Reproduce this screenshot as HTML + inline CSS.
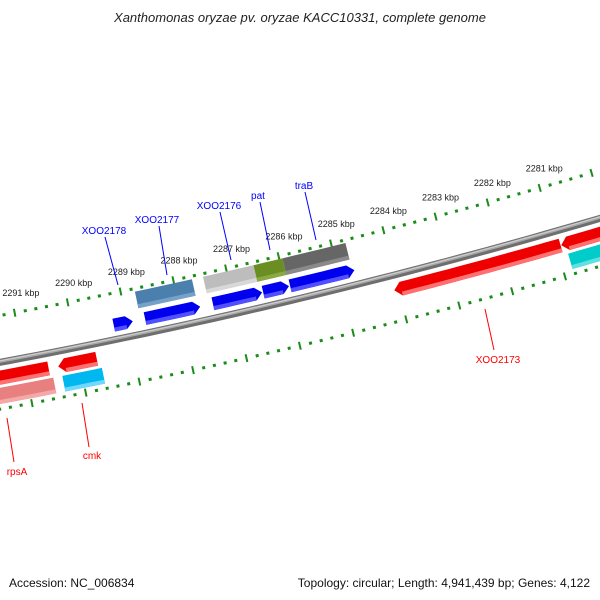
<!DOCTYPE html>
<html><head><meta charset="utf-8"><style>
html,body{margin:0;padding:0;background:#fff;}
svg{display:block;font-family:"Liberation Sans","DejaVu Sans",sans-serif;}
</style></head><body>
<svg id="chart" width="600" height="600" viewBox="0 0 600 600" xmlns="http://www.w3.org/2000/svg">
<text x="300" y="22" text-anchor="middle" font-size="13" font-style="italic" fill="#222">Xanthomonas oryzae pv. oryzae KACC10331, complete genome</text>
<g id="ticks"></g>
<g id="backbone"></g>
<g id="features"></g>
<g id="labels">
<line x1="105" y1="237" x2="118" y2="285" stroke="#00f" stroke-width="1"/>
<text x="104" y="234" text-anchor="middle" font-size="10" fill="#00f">XOO2178</text>
<line x1="159" y1="226" x2="167" y2="275" stroke="#00f" stroke-width="1"/>
<text x="157" y="223" text-anchor="middle" font-size="10" fill="#00f">XOO2177</text>
<line x1="220" y1="212" x2="231" y2="260" stroke="#00f" stroke-width="1"/>
<text x="219" y="209" text-anchor="middle" font-size="10" fill="#00f">XOO2176</text>
<line x1="260" y1="202" x2="270" y2="250" stroke="#00f" stroke-width="1"/>
<text x="258" y="199" text-anchor="middle" font-size="10" fill="#00f">pat</text>
<line x1="305" y1="192" x2="316" y2="240" stroke="#00f" stroke-width="1"/>
<text x="304" y="189" text-anchor="middle" font-size="10" fill="#00f">traB</text>
<line x1="485" y1="309" x2="494" y2="350" stroke="#f00" stroke-width="1"/>
<text x="498" y="363" text-anchor="middle" font-size="10" fill="#f00">XOO2173</text>
<line x1="7" y1="418" x2="14" y2="462" stroke="#f00" stroke-width="1"/>
<text x="17" y="475" text-anchor="middle" font-size="10" fill="#f00">rpsA</text>
<line x1="82" y1="403" x2="89" y2="447" stroke="#f00" stroke-width="1"/>
<text x="92" y="459" text-anchor="middle" font-size="10" fill="#f00">cmk</text>
</g>
<text x="9" y="587" font-size="12" fill="#111">Accession: NC_006834</text>
<text x="590" y="587" text-anchor="end" font-size="12" fill="#111">Topology: circular; Length: 4,941,439 bp; Genes: 4,122</text>
</svg>
<script>
// ---- data ----
const majorTicks=[2291,2290,2289,2288,2287,2286,2285,2284,2283,2282,2281];
const tickLabels=["2291 kbp","2290 kbp","2289 kbp","2288 kbp","2287 kbp","2286 kbp","2285 kbp","2284 kbp","2283 kbp","2282 kbp","2281 kbp"];
const featNames=["gene-small","gene-xoo2177","bar-xoo2177","gene-xoo2176","bar-xoo2176","bar-pat","bar-trab","gene-pat","gene-trab","gene-xoo2173","gene-right-red","bar-right-cyan","gene-rpsa","bar-rpsa","gene-cmk","bar-cmk"];
const featStart=[2289.25,2288.66,2288.74,2287.38,2287.45,2286.49,2285.94,2286.43,2285.92,2284.08,2280.91,2280.83,2291.9,2291.9,2290.40,2290.36];
const featEnd  =[2288.89,2287.62,2287.66,2286.45,2286.49,2285.94,2284.74,2285.94,2284.70,2280.92,2279.3,2279.3,2290.58,2290.53,2289.68,2289.62];
const featTrack=["gu","gu","bu","gu","bu","bu","bu","gu","gu","gd","gd","bd","gd","bd","gd","bd"];
const featColor=["#0000ee","#0000ee","#4a7fae","#0000ee","#bdbdbd","#6b8e23","#666666","#0000ee","#0000ee","#ee0000","#ee0000","#00cccc","#ee0000","#e88080","#ee0000","#00b8f0"];
const featShade=["#5050ff","#5050ff","#77a2c8","#5050ff","#d8d8d8","#8aa844","#8a8a8a","#5050ff","#5050ff","#ff7070","#ff7070","#60e0e0","#ff7070","#f4a8a8","#ff7070","#70d8ff"];
const featArrow=["r","r","","r","","","","r","r","l","l","","","","l",""];
// ---- geometry ----
const R=6122,CX=-1127,CY=-5655,TH0=79.17,DEG=0.5091;
const NS="http://www.w3.org/2000/svg";
function pt(k,r){const t=(TH0+(k-2291)*DEG)*Math.PI/180;return [CX+r*Math.cos(t),CY+r*Math.sin(t)];}
function arcPts(k1,k2,r){const a=[];const n=Math.max(2,Math.ceil(Math.abs(k1-k2)*4));for(let i=0;i<=n;i++){a.push(pt(k1+(k2-k1)*i/n,r));}return a;}
const trackR={gu:[R-21,R-8],bu:[R-43,R-26],gd:[R+8,R+22],bd:[R+25,R+41]};
function shape(k1,k2,r1,r2,arrow){
  const h=7/54.4;let pts=[];const rm=(r1+r2)/2;
  if(arrow==="r"){pts=arcPts(k1,k2+h,r1);pts.push(pt(k2,rm));pts=pts.concat(arcPts(k2+h,k1,r2));}
  else if(arrow==="l"){pts=[pt(k1,rm)];pts=pts.concat(arcPts(k1-h,k2,r1));pts=pts.concat(arcPts(k2,k1-h,r2));}
  else{pts=arcPts(k1,k2,r1).concat(arcPts(k2,k1,r2));}
  return pts.map(p=>p[0].toFixed(1)+","+p[1].toFixed(1)).join(" ");
}
// ticks
const tg=document.getElementById("ticks");
[R-46,R+46].forEach((r,ri)=>{
  for(let s=0;s<=70;s++){
    const k=2292.4-s*0.2;const isMajor=Math.abs(k-Math.round(k))<0.01;
    const a=pt(k,r-(isMajor?4:1.5)),b=pt(k,r+(isMajor?4:1.5));
    const l=document.createElementNS(NS,"line");
    
    
    l.setAttribute("x1",a[0]);l.setAttribute("y1",a[1]);l.setAttribute("x2",b[0]);l.setAttribute("y2",b[1]);
    l.setAttribute("stroke","#1a8c1a");l.setAttribute("stroke-width",isMajor?2:3);
    tg.appendChild(l);
  }
});
majorTicks.forEach((k,i)=>{
  const p=pt(k,R-66);const t=document.createElementNS(NS,"text");
  
  
  t.setAttribute("x",p[0]+10);t.setAttribute("y",p[1]+3);t.setAttribute("text-anchor","middle");
  t.setAttribute("font-size","9");t.setAttribute("fill","#222");t.textContent=tickLabels[i];tg.appendChild(t);
});
// backbone
const bb=document.getElementById("backbone");
[[R,7,"#6e6e6e"],[R-1,3,"#a8a8a8"],[R-1.5,1,"#d0d0d0"]].forEach(s=>{
  const p=document.createElementNS(NS,"polyline");
  
  
  p.setAttribute("points",arcPts(2292.5,2279,s[0]).map(q=>q.join(",")).join(" "));
  p.setAttribute("fill","none");p.setAttribute("stroke",s[2]);p.setAttribute("stroke-width",s[1]);bb.appendChild(p);
});
// features
const fg=document.getElementById("features");
featNames.forEach((nm,i)=>{
  const tr=trackR[featTrack[i]];const k1=featStart[i],k2=featEnd[i];
  const g=document.createElementNS(NS,"g");
  
  
  const p=document.createElementNS(NS,"polygon");
  p.setAttribute("points",shape(k1,k2,tr[0],tr[1],featArrow[i]));p.setAttribute("fill",featColor[i]);g.appendChild(p);
  const h=7/54.4;let a=k1,b=k2;if(featArrow[i]==="r")b=k2+h;if(featArrow[i]==="l")a=k1-h;
  const s=document.createElementNS(NS,"polygon");
  s.setAttribute("points",shape(a,b,tr[1]-4,tr[1],""));s.setAttribute("fill",featShade[i]);g.appendChild(s);
  fg.appendChild(g);
});
</script>
</body></html>
